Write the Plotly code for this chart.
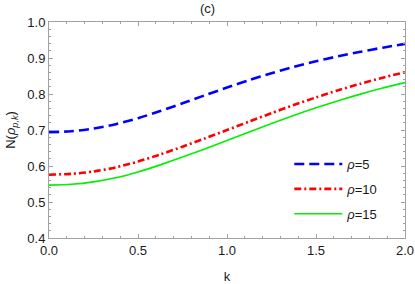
import plotly.graph_objects as go

k_vals = [0.0, 0.125, 0.25, 0.375, 0.5, 0.625, 0.75, 0.875, 1.0,
          1.125, 1.25, 1.375, 1.5, 1.625, 1.75, 1.875, 2.0]
n_rho5 = [0.694, 0.6965, 0.704, 0.7162, 0.7328, 0.7525, 0.7741, 0.7963, 0.8179,
          0.8385, 0.8579, 0.8755, 0.891, 0.9048, 0.9173, 0.9287, 0.9392]
n_rho10 = [0.576, 0.5782, 0.5848, 0.5961, 0.6124, 0.6321, 0.6537, 0.6765, 0.6999,
           0.7235, 0.7468, 0.7693, 0.7906, 0.8104, 0.8287, 0.8454, 0.8606]
n_rho15 = [0.547, 0.5492, 0.5558, 0.5671, 0.5834, 0.6031, 0.6247, 0.6475, 0.6709,
           0.6945, 0.7178, 0.7403, 0.7616, 0.7814, 0.7997, 0.8164, 0.8316]
series_names = ["<i>ρ</i>=5", "<i>ρ</i>=10", "<i>ρ</i>=15"]
x_ticks = [0.0, 0.5, 1.0, 1.5, 2.0]
y_ticks = [0.4, 0.5, 0.6, 0.7, 0.8, 0.9, 1.0]

FONT = "Liberation Sans, Arial, sans-serif"
TXT = "#1a1a1a"

fig = go.Figure()
styles = [
    dict(color="#0000ff", width=2.6, dash="10px,5px"),
    dict(color="#ff0000", width=2.6, dash="7px,3px,2px,3px"),
    dict(color="#00f000", width=1.6, dash="solid"),
]
for i, (ys, name) in enumerate(zip([n_rho5, n_rho10, n_rho15], series_names)):
    fig.add_trace(go.Scatter(
        x=k_vals, y=ys, mode="lines", name=name,
        line=dict(shape="spline", smoothing=0.8, **styles[i]),
        legendgroup=f"g{i}",
    ))

axis_common = dict(
    showline=True, linecolor="#a0a0a0", linewidth=1, mirror="ticks",
    ticks="inside", ticklen=4, tickcolor="#a0a0a0", tickwidth=1,
    showgrid=False, zeroline=False, automargin=False,
    tickfont=dict(family=FONT, size=13, color=TXT),
)
fig.update_xaxes(
    range=[0, 2], tickvals=x_ticks, ticktext=[f"{v:.1f}" for v in x_ticks],
    minor=dict(dtick=0.1, ticks="inside", ticklen=2, tickcolor="#a0a0a0", showgrid=False),
    title=dict(text="k", standoff=31, font=dict(family=FONT, size=13, color=TXT)),
    **axis_common,
)
fig.update_yaxes(
    range=[0.4, 1.0], tickvals=y_ticks, ticktext=[f"{v:.1f}" for v in y_ticks],
    minor=dict(dtick=0.02, ticks="inside", ticklen=2, tickcolor="#a0a0a0", showgrid=False),
    title=dict(text="N(<i>ρ</i><sub><i>p,k</i></sub>)", standoff=8,
               font=dict(family=FONT, size=13, color=TXT)),
    **axis_common,
)
fig.update_layout(
    width=415, height=284,
    margin=dict(l=49, r=10, t=22, b=46),
    paper_bgcolor="white", plot_bgcolor="white",
    title=dict(text="(c)", x=0.5, xanchor="center", y=0.985, yanchor="top",
               font=dict(family=FONT, size=13, color=TXT)),
    showlegend=True,
    legend=dict(x=0.675, y=0.412, xanchor="left", yanchor="top",
                bgcolor="rgba(0,0,0,0)", traceorder="grouped", tracegroupgap=5,
                itemwidth=48,
                font=dict(family=FONT, size=13, color=TXT)),
)
fig.write_html("out.html", config={"displayModeBar": False},
               post_script="document.body.style.margin='0';")
